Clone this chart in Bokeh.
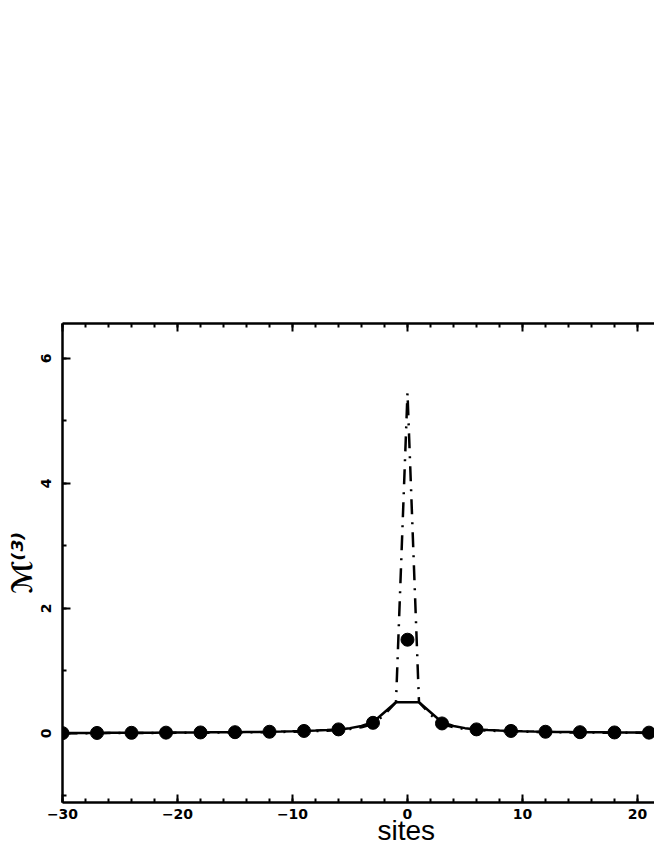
from bokeh.plotting import figure
from bokeh.models import LinearAxis, SingleIntervalTicker, Range1d, Title
from bokeh.embed import file_html
from bokeh.resources import INLINE

# ---- data ----
sites = list(range(-30, 23))
solid_vals = [0.008, 0.008, 0.009, 0.009, 0.010, 0.010, 0.011, 0.012, 0.013, 0.014,
              0.015, 0.016, 0.017, 0.018, 0.019, 0.021, 0.023, 0.025, 0.028, 0.031,
              0.035, 0.040, 0.047, 0.055, 0.065, 0.085, 0.12, 0.18, 0.34, 0.50,
              0.50, 0.50, 0.34, 0.18, 0.12, 0.085, 0.065, 0.055, 0.047, 0.040,
              0.035, 0.031, 0.028, 0.025, 0.023, 0.021, 0.019, 0.018, 0.017, 0.016,
              0.015, 0.014, 0.013]
dashdot_vals = [0.004, 0.004, 0.005, 0.005, 0.006, 0.006, 0.007, 0.007, 0.008, 0.009,
                0.010, 0.011, 0.012, 0.013, 0.014, 0.015, 0.017, 0.019, 0.021, 0.024,
                0.028, 0.032, 0.038, 0.045, 0.055, 0.070, 0.10, 0.15, 0.30, 0.50,
                5.45, 0.50, 0.30, 0.15, 0.10, 0.070, 0.055, 0.045, 0.038, 0.032,
                0.028, 0.024, 0.021, 0.019, 0.017, 0.015, 0.014, 0.013, 0.012, 0.011,
                0.010, 0.009, 0.008]
dot_sites = [-30, -27, -24, -21, -18, -15, -12, -9, -6, -3, 0, 3, 6, 9, 12, 15, 18, 21]
dot_vals = [0.005, 0.008, 0.010, 0.013, 0.016, 0.020, 0.027, 0.040, 0.065, 0.17,
            1.50, 0.16, 0.065, 0.040, 0.027, 0.020, 0.016, 0.013]
x_major_labels = {-30: "\u221230", -20: "\u221220", -10: "\u221210", 0: "0", 10: "10", 20: "20"}
top_labels = {-30: "", -20: "", -10: "", 0: "", 10: "", 20: ""}
x_label = "sites"
y_label = "\u2133\u207d\u00b3\u207e"

TICK_FONT = "DejaVu Sans"
LABEL_FONT = "Liberation Sans"

p = figure(frame_width=592, frame_height=479,
           x_range=Range1d(-30, 21.48), y_range=Range1d(-1.105, 6.56),
           output_backend="svg", toolbar_location=None,
           x_axis_location=None, y_axis_location=None,
           min_border_left=62, min_border_top=323, min_border_bottom=44, min_border_right=0)
p.outline_line_color = None
p.xgrid.visible = False
p.ygrid.visible = False
p.background_fill_color = "white"
p.border_fill_color = "white"

def style_axis(ax):
    ax.axis_line_width = 2.5
    ax.axis_line_color = "black"
    ax.major_tick_in = 8
    ax.major_tick_out = 0
    ax.minor_tick_in = 4
    ax.minor_tick_out = 0
    ax.major_tick_line_width = 2
    ax.minor_tick_line_width = 2
    ax.major_label_text_font = TICK_FONT
    ax.major_label_text_font_style = "bold"
    ax.major_label_text_font_size = "14px"
    ax.major_label_text_color = "black"

xb = LinearAxis(ticker=SingleIntervalTicker(interval=10, num_minor_ticks=5))
style_axis(xb)
xb.major_label_overrides = x_major_labels
xb.major_label_standoff = 6
p.add_layout(xb, "below")

xt = LinearAxis(ticker=SingleIntervalTicker(interval=10, num_minor_ticks=5))
style_axis(xt)
xt.major_label_overrides = top_labels
xt.major_label_standoff = 0
p.add_layout(xt, "above")

yl = LinearAxis(ticker=SingleIntervalTicker(interval=2, num_minor_ticks=2))
style_axis(yl)
yl.major_label_orientation = "vertical"
yl.major_label_standoff = 11
p.add_layout(yl, "left")

p.add_layout(Title(text=x_label, align="left", offset=315, standoff=-17,
                   text_font=LABEL_FONT, text_font_style="normal",
                   text_font_size="28px", text_color="black"), "below")
p.add_layout(Title(text=y_label, align="center", offset=0, standoff=0,
                   text_font="DejaVu Sans", text_font_style="bold italic",
                   text_font_size="28px", text_color="black"), "left")

p.line(sites, dashdot_vals, line_color="black", line_width=2.5, line_dash="15 8 2 8")
p.line(sites, solid_vals, line_color="black", line_width=2.5)
p.scatter(dot_sites, dot_vals, size=13, fill_color="black", line_color="black")

open("out.html", "w").write(file_html(p, INLINE))
